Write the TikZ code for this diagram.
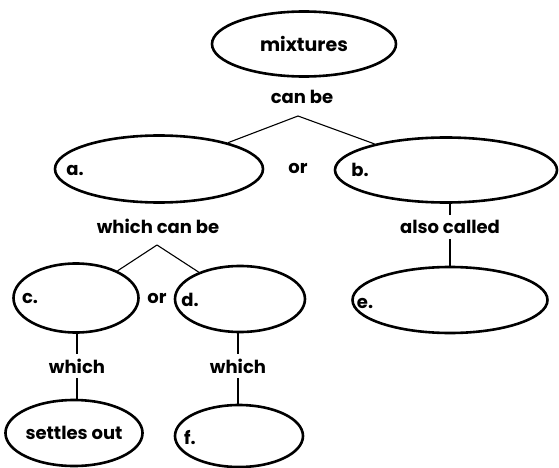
\documentclass[tikz,border=0pt]{standalone}
\usepackage{fontspec}
\setmainfont{Poppins}
\usetikzlibrary{shapes.geometric}
\begin{document}
\begin{tikzpicture}[x=1pt,y=-1pt,
  concept/.style={ellipse,draw=black,line width=2.6pt,inner sep=0pt,
    minimum width=#1,minimum height=66pt},
  wordfont/.style={font=\fontsize{18}{20}\selectfont\bfseries},
  linkword/.style={wordfont,inner sep=5pt},
  tag/.style={wordfont,inner sep=0pt},
  conn/.style={draw=black,line width=1.1pt}]
\useasboundingbox (0,0) rectangle (559,468);

% concept ovals
\node[concept=184pt,minimum height=65pt,wordfont,font=\fontsize{19}{21}\selectfont\bfseries] (mix) at (304,44) {mixtures};
\node[concept=208pt,minimum height=67pt] (a) at (159,169) {};
\node[concept=222pt,minimum height=65pt] (b) at (446,170) {};
\node[concept=125pt,minimum height=69pt] (c) at (76,298) {};
\node[concept=130pt] (d) at (240,299) {};
\node[concept=195pt] (e) at (450,300) {};
\node[concept=127pt,wordfont] (s) at (74,433) {settles out};
\node[concept=128pt,minimum height=62pt] (f) at (239,436) {};

% blanks to fill in
\node[tag] (ta) at (75,170) {a.};
\node[tag] (tb) at (360,170) {b.};
\node[tag] (tc) at (30,298) {c.};
\node[tag] (td) at (190,300) {d.};
\node[tag] (te) at (365,303) {e.};
\node[tag] (tf) at (190,438) {f.};

% linking words
\node[linkword] (canbe) at (302,97) {can be};
\node[linkword] (or1) at (298,168) {or};
\node[linkword] (wcb) at (158,226) {which can be};
\node[linkword] (or2) at (157,298) {or};
\node[linkword] (also) at (450,227) {also called};
\node[linkword] (w1) at (77,366) {which};
\node[linkword] (w2) at (238,366) {which};

% branching points
\coordinate (p1) at (298,116);
\coordinate (p2) at (157,245);

% connectors
\draw[conn] (p1) -- (a);
\draw[conn] (p1) -- (b);
\draw[conn] (p2) -- (c);
\draw[conn] (p2) -- (d);
\draw[conn] (also.north) -- (also.north |- b.south);
\draw[conn] (also.south) -- (also.south |- e.north);
\draw[conn] (w1.north) -- (w1.north |- c.south);
\draw[conn] (w1.south) -- (w1.south |- s.north);
\draw[conn] (w2.north) -- (w2.north |- d.south);
\draw[conn] (w2.south) -- (w2.south |- f.north);
\end{tikzpicture}
\end{document}
